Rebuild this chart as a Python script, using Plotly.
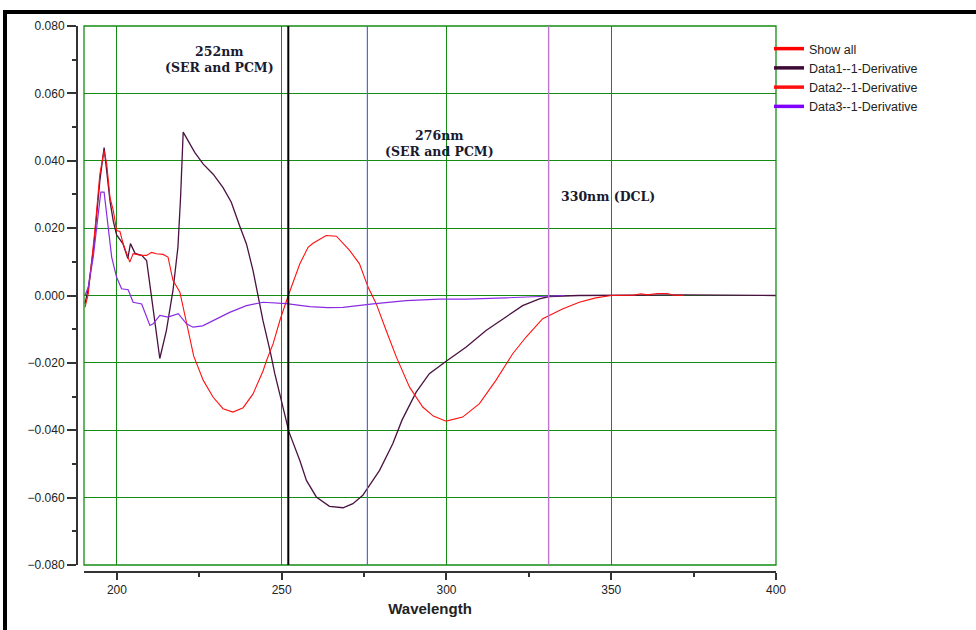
import plotly.graph_objects as go

# ---------------- data ----------------
d1_x = [190.3, 191.3, 193.0, 194.8, 196.1, 196.9, 197.9, 198.9, 199.9, 201.8, 203.3, 204.1, 205.5,
        207.5, 209.0, 210.5, 211.8, 213.0, 215.0, 217.0, 218.5, 219.3, 220.1, 223.6, 226.2, 229.2,
        232.2, 234.7, 237.3, 239.3, 241.3, 242.8, 244.3, 246.6, 247.9, 249.6, 252.2, 255.5, 257.5,
        260.5, 264.5, 268.6, 271.6, 274.6, 276.2, 279.7, 283.7, 286.5, 290.8, 294.8, 299.9, 306.0,
        312.0, 318.1, 323.1, 328.2, 331.2, 340.0, 372.0, 400.0]
d1_y = [-0.0024, 0.002, 0.015, 0.034, 0.0439, 0.036, 0.028, 0.022, 0.018, 0.0154, 0.011, 0.0154, 0.0125,
        0.0119, 0.0104, -0.0005, -0.010, -0.0187, -0.0104, 0.0015, 0.0143, 0.029, 0.0485, 0.0425, 0.039, 0.036,
        0.032, 0.0277, 0.0205, 0.0153, 0.0074, 0.0, -0.0074, -0.017, -0.0232, -0.030, -0.0405, -0.049, -0.0549,
        -0.0598, -0.0626, -0.063, -0.0618, -0.0593, -0.0569, -0.0519, -0.044, -0.037, -0.0287, -0.0232, -0.0195, -0.0153,
        -0.0104, -0.0064, -0.003, -0.001, -0.0003, 0.0, 0.0002, 0.0]

d2_x = [190.3, 191.3, 193.3, 194.8, 196.1, 196.9, 197.9, 198.9, 199.9, 200.9, 201.9, 203.9, 204.9,
        207.0, 209.0, 210.5, 212.0, 214.0, 215.5, 217.0, 219.1, 221.1, 223.3, 226.2, 229.2, 232.2,
        235.2, 238.3, 241.3, 244.3, 245.4, 247.4, 249.6, 252.0, 254.4, 255.5, 258.0, 259.5, 263.5,
        266.6, 270.6, 273.6, 276.2, 278.7, 281.7, 284.8, 288.8, 292.8, 296.0, 299.9, 304.9, 310.0,
        315.0, 320.1, 324.1, 329.2, 335.2, 340.3, 345.3, 350.0, 357.0, 359.0, 361.0, 364.0, 367.0,
        369.0, 372.0]
d2_y = [-0.0035, 0.0005, 0.0193, 0.036, 0.043, 0.039, 0.029, 0.0252, 0.0193, 0.019, 0.0153, 0.0099, 0.0124,
        0.012, 0.0119, 0.0128, 0.0124, 0.0122, 0.0114, 0.0045, 0.001, -0.0085, -0.018, -0.0252, -0.0302, -0.0336,
        -0.0346, -0.0333, -0.0292, -0.0225, -0.0193, -0.0143, -0.0069, 0.0, 0.0067, 0.0094, 0.0143, 0.0155, 0.0178,
        0.0176, 0.0134, 0.0094, 0.0025, -0.0025, -0.0104, -0.0183, -0.0272, -0.0331, -0.0358, -0.0373, -0.0361, -0.0321,
        -0.0252, -0.0173, -0.0124, -0.0069, -0.004, -0.002, -0.0007, 0.0, 0.0001, 0.0005, 0.0002, 0.0006, 0.0006,
        0.0001, 0.0]

d3_x = [190.3, 191.3, 192.8, 194.3, 195.1, 196.1, 196.9, 198.4, 199.9, 201.4, 203.4, 204.9, 207.5,
        209.0, 210.0, 211.0, 213.0, 215.5, 218.6, 221.1, 223.1, 226.0, 229.2, 234.2, 239.3, 244.3,
        251.4, 258.5, 264.0, 268.6, 277.7, 287.8, 297.9, 306.0, 318.0, 330.2, 335.8]
d3_y = [0.0, 0.0025, 0.0114, 0.0242, 0.0307, 0.0307, 0.0242, 0.0114, 0.0054, 0.002, 0.0017, -0.002, -0.0025,
        -0.0064, -0.0089, -0.0084, -0.0059, -0.0064, -0.0054, -0.0084, -0.0094, -0.009, -0.0074, -0.005, -0.003, -0.002,
        -0.0024, -0.0033, -0.0036, -0.0035, -0.0025, -0.0015, -0.0011, -0.0011, -0.0007, -0.0003, 0.0]

series_names = ["Show all", "Data1--1-Derivative", "Data2--1-Derivative", "Data3--1-Derivative"]
series_colors = ["#ff0000", "#3d0a36", "#ff1010", "#8000ff"]
marker_wl = [252, 276, 331]
marker_labels = ["252nm<br>(SER and PCM)", "276nm<br>(SER and PCM)", "330nm (DCL)"]
label_x = [231.2, 298.0, 334.2]
label_y = [0.0700, 0.0451, 0.0294]
x_ticks = [200, 250, 300, 350, 400]
x_minor = [225, 275, 325, 375]
y_ticks = [-0.08, -0.06, -0.04, -0.02, 0.0, 0.02, 0.04, 0.06, 0.08]
y_minor = [-0.07, -0.05, -0.03, -0.01, 0.01, 0.03, 0.05, 0.07]

# ---------------- figure ----------------
GREEN = "rgb(20,140,20)"
fig = go.Figure()
fig.add_trace(go.Scatter(x=d1_x, y=d1_y, mode="lines", showlegend=False,
                         line=dict(color="#4a1242", width=1.3)))
fig.add_trace(go.Scatter(x=d2_x, y=d2_y, mode="lines", showlegend=False,
                         line=dict(color="#ff1010", width=1.1)))
fig.add_trace(go.Scatter(x=d3_x, y=d3_y, mode="lines", showlegend=False,
                         line=dict(color="#8a2be2", width=1.2)))
for nm, col in zip(series_names, series_colors):
    fig.add_trace(go.Scatter(x=[None], y=[None], mode="lines", name=nm,
                             line=dict(color=col, width=3.5)))

W, H = 976, 630
L, R, T, B = 77, 200, 26, 58
pw, ph = W - L - R, H - T - B
xd0 = 7 / pw
yd0 = 7 / ph

fig.update_layout(
    width=W, height=H,
    margin=dict(l=L, r=R, t=T, b=B),
    paper_bgcolor="white", plot_bgcolor="white",
    font=dict(family="Liberation Sans, Arial, sans-serif", size=12, color="#222"),
    showlegend=True,
    legend=dict(x=(769 - L) / pw, y=(572 - 34) / ph, xanchor="left", yanchor="top",
                bgcolor="rgba(0,0,0,0)", font=dict(size=12.5, color="#222"),
                tracegroupgap=0),
    xaxis=dict(range=[190, 400], domain=[xd0, 1], anchor="free", position=0,
               tickvals=x_ticks, ticks="outside", ticklen=7, tickwidth=1.5, tickcolor="#333",
               showline=True, linecolor="#333", linewidth=2,
               showgrid=True, gridcolor=GREEN, gridwidth=1.3, zeroline=False,
               minor=dict(tickvals=x_minor, ticks="outside", ticklen=4, tickcolor="#333", showgrid=False),
               title=dict(text="<b>Wavelength</b>", font=dict(size=15, color="#222"), standoff=6),
               tickfont=dict(size=12)),
    yaxis=dict(range=[-0.08, 0.08], domain=[yd0, 1], anchor="free", position=0,
               tickvals=y_ticks, tickformat=".3f", ticks="outside", ticklen=9, tickwidth=1.5,
               tickcolor="#333", showline=True, linecolor="#333", linewidth=2,
               showgrid=True, gridcolor=GREEN, gridwidth=1.3, zeroline=False,
               minor=dict(tickvals=y_minor, ticks="outside", ticklen=4, tickcolor="#333", showgrid=False),
               tickfont=dict(size=12)),
)

# green plot frame
fig.add_shape(type="rect", xref="x domain", yref="y domain", x0=0, x1=1, y0=0, y1=1,
              line=dict(color=GREEN, width=1.3), layer="above")

# vertical marker lines
mcolors = ["#000000", "#5566dd", "#bb77cc"]
mwidths = [2, 1.2, 1.4]
for wl, c, w in zip(marker_wl, mcolors, mwidths):
    fig.add_shape(type="line", xref="x", yref="y domain", x0=wl, x1=wl, y0=0, y1=1,
                  line=dict(color=c, width=w), layer="above")

# annotations
afont = dict(family="DejaVu Serif, serif", size=12.5, color="#1a1a2e")
anchors = ["center", "center", "left"]
for txt, lx, ly, anc in zip(marker_labels, label_x, label_y, anchors):
    fig.add_annotation(text="<b>" + txt + "</b>", xref="x", yref="y", x=lx, y=ly,
                       showarrow=False, font=afont, align="center", xanchor=anc)

# outer black border
fig.add_shape(type="rect", xref="paper", yref="paper",
              x0=(5 - L) / pw, x1=1.5, y0=-0.2, y1=(572 - 12) / ph,
              line=dict(color="black", width=4), layer="above")

fig.write_html("out.html", config={"displayModeBar": False},
               post_script="document.body.style.margin='0px';document.body.style.overflow='hidden';")
